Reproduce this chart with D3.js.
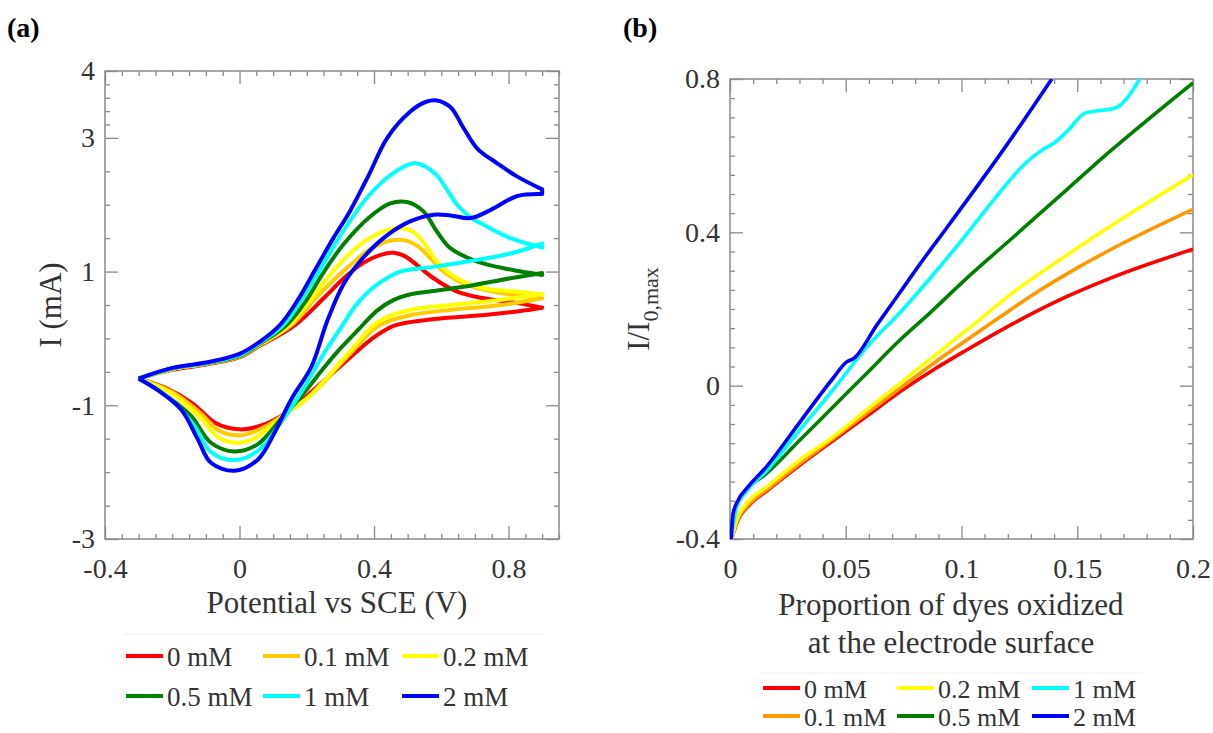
<!DOCTYPE html>
<html>
<head>
<meta charset="utf-8">
<script src="https://cdn.jsdelivr.net/npm/d3@7"></script>
<style>
  body { margin: 0; background: #fff; }
  svg text { font-family: "Liberation Serif", "Times New Roman", serif; fill: #333; }
</style>
</head>
<body>
<svg id="chart"></svg>
<script>
// --- DATA ---
const concLabels = ['0 mM', '0.1 mM', '0.2 mM', '0.5 mM', '1 mM', '2 mM'];
const colorsA = ['#ff0000', '#ffcc00', '#ffff00', '#008000', '#00ffff', '#0000ff'];
const colorsB = ['#ff0000', '#ff9900', '#ffff00', '#008000', '#00ffff', '#0000ff'];

// (a) cyclic voltammograms: [potential V, current mA], forward scan then return scan
const cv0 = [[-0.3,-0.6],[-0.2,-0.47],[-0.1,-0.39],[0,-0.28],[0.06,-0.11],[0.165,0.2],[0.25,0.6],[0.31,0.9],[0.368,1.13],[0.42,1.25],[0.458,1.28],[0.495,1.22],[0.527,1.1],[0.577,0.9],[0.647,0.7],[0.726,0.6],[0.826,0.53],[0.9,0.46],
  [0.85,0.42],[0.75,0.36],[0.56,0.28],[0.46,0.19],[0.39,-0.02],[0.31,-0.37],[0.22,-0.77],[0.14,-1.11],[0.06,-1.31],[0,-1.36],[-0.07,-1.27],[-0.14,-0.97],[-0.22,-0.74],[-0.3,-0.6]];
const cv01 = [[-0.3,-0.6],[-0.2,-0.46],[-0.1,-0.38],[0,-0.27],[0.06,-0.1],[0.155,0.2],[0.222,0.58],[0.279,0.87],[0.33,1.1],[0.378,1.3],[0.438,1.45],[0.488,1.47],[0.53,1.38],[0.567,1.2],[0.607,1.0],[0.677,0.8],[0.776,0.68],[0.9,0.6],
  [0.78,0.5],[0.63,0.43],[0.51,0.35],[0.43,0.23],[0.39,0.1],[0.353,-0.1],[0.3,-0.38],[0.254,-0.64],[0.2,-0.9],[0.139,-1.12],[0.08,-1.31],[0.03,-1.42],[-0.005,-1.45],[-0.06,-1.38],[-0.12,-1.1],[-0.2,-0.8],[-0.3,-0.6]];
const cv02 = [[-0.3,-0.6],[-0.2,-0.46],[-0.1,-0.38],[0,-0.27],[0.06,-0.09],[0.148,0.2],[0.212,0.58],[0.265,0.93],[0.308,1.17],[0.358,1.4],[0.428,1.6],[0.478,1.65],[0.515,1.6],[0.55,1.42],[0.587,1.15],[0.647,0.9],[0.726,0.75],[0.826,0.7],[0.9,0.66],
  [0.78,0.58],[0.63,0.5],[0.51,0.43],[0.43,0.3],[0.39,0.16],[0.353,-0.05],[0.3,-0.35],[0.254,-0.62],[0.2,-0.9],[0.139,-1.12],[0.08,-1.37],[0.03,-1.53],[-0.01,-1.56],[-0.06,-1.49],[-0.12,-1.17],[-0.2,-0.83],[-0.3,-0.6]];
const cv05 = [[-0.3,-0.6],[-0.2,-0.45],[-0.1,-0.37],[0,-0.26],[0.06,-0.08],[0.14,0.2],[0.2,0.58],[0.245,0.95],[0.308,1.4],[0.388,1.82],[0.448,2.02],[0.498,2.04],[0.547,1.9],[0.587,1.6],[0.627,1.35],[0.707,1.15],[0.806,1.03],[0.9,0.95],
  [0.9,0.98],[0.806,0.9],[0.677,0.78],[0.577,0.71],[0.5,0.65],[0.46,0.58],[0.41,0.42],[0.353,0.13],[0.3,-0.15],[0.254,-0.42],[0.184,-0.86],[0.124,-1.2],[0.055,-1.58],[-0.015,-1.69],[-0.085,-1.56],[-0.144,-1.16],[-0.214,-0.87],[-0.3,-0.6]];
const cv1 = [[-0.3,-0.6],[-0.2,-0.45],[-0.1,-0.37],[0,-0.25],[0.06,-0.07],[0.13,0.2],[0.185,0.58],[0.236,1.0],[0.308,1.6],[0.378,2.1],[0.448,2.44],[0.517,2.62],[0.55,2.58],[0.587,2.44],[0.62,2.2],[0.647,2.0],[0.69,1.8],[0.726,1.7],[0.806,1.5],[0.9,1.36],
  [0.9,1.42],[0.806,1.27],[0.677,1.15],[0.577,1.07],[0.478,1.0],[0.408,0.8],[0.35,0.52],[0.3,0.15],[0.254,-0.2],[0.184,-0.8],[0.124,-1.25],[0.055,-1.68],[-0.015,-1.82],[-0.085,-1.7],[-0.134,-1.31],[-0.194,-0.96],[-0.25,-0.74],[-0.3,-0.6]];
const cv2 = [[-0.3,-0.6],[-0.2,-0.44],[-0.1,-0.36],[0,-0.23],[0.06,-0.05],[0.12,0.2],[0.174,0.58],[0.222,1.0],[0.279,1.5],[0.328,1.9],[0.385,2.45],[0.438,2.99],[0.507,3.39],[0.555,3.54],[0.587,3.56],[0.627,3.46],[0.667,3.14],[0.707,2.84],[0.766,2.62],[0.826,2.42],[0.9,2.23],
  [0.9,2.16],[0.826,2.13],[0.746,1.92],[0.687,1.8],[0.627,1.84],[0.577,1.85],[0.507,1.75],[0.428,1.5],[0.358,1.15],[0.308,0.8],[0.26,0.25],[0.214,-0.42],[0.154,-0.91],[0.104,-1.41],[0.055,-1.81],[-0.015,-1.98],[-0.085,-1.86],[-0.124,-1.51],[-0.174,-1.06],[-0.244,-0.77],[-0.3,-0.6]];

// (b) normalised current vs proportion of oxidized dyes: [proportion, I/I0,max]
const prop0 = [[0.0007,-0.4],[0.003,-0.357],[0.0086,-0.31],[0.0158,-0.275],[0.0302,-0.207],[0.0446,-0.143],[0.059,-0.08],[0.0734,-0.016],[0.0878,0.041],[0.1022,0.093],[0.1166,0.143],[0.1454,0.232],[0.1641,0.28],[0.2,0.356]];
const prop01 = [[0.0007,-0.4],[0.003,-0.355],[0.0086,-0.307],[0.0158,-0.272],[0.0302,-0.203],[0.0446,-0.138],[0.059,-0.072],[0.0734,-0.007],[0.0878,0.058],[0.1022,0.119],[0.1166,0.179],[0.131,0.238],[0.1454,0.291],[0.1641,0.354],[0.2,0.46]];
const prop02 = [[0.0007,-0.4],[0.0029,-0.351],[0.0072,-0.307],[0.0158,-0.264],[0.0302,-0.194],[0.0446,-0.133],[0.059,-0.063],[0.0734,0.006],[0.0878,0.076],[0.1022,0.145],[0.1238,0.25],[0.1454,0.34],[0.1641,0.415],[0.2,0.55]];
const prop05 = [[0.0005,-0.4],[0.0015,-0.33],[0.0058,-0.281],[0.0158,-0.229],[0.0302,-0.142],[0.0446,-0.055],[0.059,0.032],[0.0734,0.119],[0.0864,0.19],[0.1022,0.28],[0.1238,0.395],[0.1454,0.511],[0.1641,0.611],[0.2,0.79]];
const prop1 = [[0.0005,-0.4],[0.0029,-0.316],[0.0072,-0.275],[0.0158,-0.222],[0.0302,-0.115],[0.0446,-0.01],[0.059,0.1],[0.0749,0.2],[0.0878,0.29],[0.1022,0.395],[0.1166,0.505],[0.1267,0.575],[0.1353,0.617],[0.1397,0.632],[0.1454,0.662],[0.1534,0.711],[0.1667,0.725],[0.177,0.8]];
const prop2 = [[0.0005,-0.4],[0.0014,-0.333],[0.0036,-0.298],[0.0072,-0.268],[0.0158,-0.211],[0.0302,-0.095],[0.0446,0.02],[0.0504,0.062],[0.0533,0.07],[0.0634,0.158],[0.0734,0.243],[0.0806,0.305],[0.095,0.423],[0.1094,0.542],[0.1238,0.665],[0.139,0.8]];

const cvSeries = [cv0, cv01, cv02, cv05, cv1, cv2];
const propSeries = [prop0, prop01, prop02, prop05, prop1, prop2];

// tick labels
const cvXTicks = [-0.4, 0, 0.4, 0.8];
const cvYTicks = [-3, -1, 1, 3, 4];
const cvYMinor = [3.8, 3.6, 3.4, 3.2, 2.5, 2, 1.5, 0.5, 0, -0.5, -1.5, -2, -2.5];
const propXTicks = [0, 0.05, 0.1, 0.15, 0.2];
const propYTicks = [-0.4, 0, 0.4, 0.8];

// legend layouts (index into concLabels)
const legendOrderA = [[0, 1, 2], [3, 4, 5]];
const legendOrderB = [[0, 2, 4], [1, 3, 5]];

// --- SETUP ---
const width = 1213, height = 733;
const svg = d3.select('#chart').attr('width', width).attr('height', height);

const AXIS_COLOR = '#8a8a8a';
const near = (a, list) => list.some(v => Math.abs(v - a) < 1e-6);

function drawAxes(g, x, y, xMajor, xMinor, yMajor, yMinor, fmt) {
    const [x0, x1] = x.range();
    const [y0, y1] = y.range(); // y0 bottom, y1 top

    const axes = [
        { gen: d3.axisBottom, scale: x, at: `translate(0,${y0})`, major: xMajor, minor: xMinor, labels: true, pad: 19 },
        { gen: d3.axisTop, scale: x, at: `translate(0,${y1})`, major: xMajor, minor: xMinor, labels: false },
        { gen: d3.axisLeft, scale: y, at: `translate(${x0},0)`, major: yMajor, minor: yMinor, labels: true, pad: 10 },
        { gen: d3.axisRight, scale: y, at: `translate(${x1},0)`, major: yMajor, minor: yMinor, labels: false }
    ];

    axes.forEach(a => {
        const minorG = g.append('g').attr('transform', a.at)
            .call(a.gen(a.scale).tickValues(a.minor).tickSize(-5).tickFormat(''));
        const majorG = g.append('g').attr('transform', a.at)
            .call(a.gen(a.scale).tickValues(a.major).tickSize(-13)
                .tickPadding(a.pad || 0)
                .tickFormat(a.labels ? fmt : ''));
        [minorG, majorG].forEach(s => {
            s.select('.domain').remove();
            s.selectAll('line').attr('stroke', AXIS_COLOR).attr('stroke-width', 1.3);
            s.selectAll('text').style('font-size', '28px').style('fill', '#333');
        });
    });

    g.append('rect')
        .attr('x', x0).attr('y', y1)
        .attr('width', x1 - x0).attr('height', y0 - y1)
        .attr('fill', 'none').attr('stroke', AXIS_COLOR).attr('stroke-width', 1.5);
}

function drawLegend(g, order, colors, colStarts, rowBase, rowGap, lineLen, fontSize) {
    order.forEach((row, r) => {
        row.forEach((idx, c) => {
            const lx = colStarts[c];
            const by = rowBase + r * rowGap;
            g.append('line')
                .attr('x1', lx).attr('x2', lx + lineLen)
                .attr('y1', by - 10).attr('y2', by - 10)
                .attr('stroke', colors[idx]).attr('stroke-width', 4);
            g.append('text')
                .attr('x', lx + lineLen + 4).attr('y', by)
                .style('font-size', fontSize + 'px')
                .text(concLabels[idx]);
        });
    });
}

// --- PANEL (a) ---
const xA = d3.scaleLinear().domain([-0.4, 0.95]).range([105, 559]);
const yA = d3.scaleLinear().domain([-3, 4]).range([539, 71]);
const gA = svg.append('g');

const xAMinor = d3.range(-0.35, 0.951, 0.05).filter(v => !near(v, cvXTicks));
drawAxes(gA, xA, yA, cvXTicks, xAMinor, cvYTicks, cvYMinor, d => String(d));

// each voltammogram: forward branch + return branch drawn as smooth pieces,
// joined with a sharp turn at the switching potential
const smoothA = d3.line().x(d => xA(d[0])).y(d => yA(d[1])).curve(d3.curveCatmullRom.alpha(0.5));
function loopPath(pts) {
    const k = d3.maxIndex(pts, d => d[0]);
    const fwd = pts.slice(0, k + 1);
    let rev = pts.slice(k + 1);
    if (rev[0][0] !== pts[k][0]) rev = [pts[k]].concat(rev);
    return smoothA(fwd) + smoothA(rev).replace(/^M/, 'L');
}

gA.append('g').selectAll('path')
    .data(cvSeries)
    .enter().append('path')
    .attr('d', loopPath)
    .attr('fill', 'none')
    .attr('stroke', (d, i) => colorsA[i])
    .attr('stroke-width', 4)
    .attr('stroke-linejoin', 'round');

gA.append('text').attr('x', 337).attr('y', 613)
    .attr('text-anchor', 'middle').style('font-size', '31px')
    .text('Potential vs SCE (V)');
gA.append('text').attr('transform', 'translate(61,305) rotate(-90)')
    .attr('text-anchor', 'middle').style('font-size', '31px')
    .text('I (mA)');
gA.append('text').attr('x', 7).attr('y', 37)
    .style('font-size', '28px').style('font-weight', 'bold').style('fill', '#000')
    .text('(a)');

gA.append('line').attr('x1', 123).attr('x2', 543).attr('y1', 634).attr('y2', 634)
    .attr('stroke', '#eeeeee').attr('stroke-width', 1);
drawLegend(gA, legendOrderA, colorsA, [126, 263, 402], 666, 40, 37, 27);

// --- PANEL (b) ---
const xB = d3.scaleLinear().domain([0, 0.2]).range([730, 1193]);
const yB = d3.scaleLinear().domain([-0.4, 0.8]).range([539, 79]);
const gB = svg.append('g');

const xBMinor = d3.range(0.01, 0.2, 0.01).filter(v => !near(v, propXTicks));
const yBMinor = d3.range(-0.35, 0.8, 0.05).filter(v => !near(v, propYTicks));
drawAxes(gB, xB, yB, propXTicks, xBMinor, propYTicks, yBMinor, d => String(d));

svg.append('defs').append('clipPath').attr('id', 'clipB')
    .append('rect').attr('x', 730).attr('y', 79).attr('width', 463).attr('height', 460);

const lineB = d3.line().x(d => xB(d[0])).y(d => yB(d[1])).curve(d3.curveMonotoneX);
gB.append('g').attr('clip-path', 'url(#clipB)').selectAll('path')
    .data(propSeries)
    .enter().append('path')
    .attr('d', lineB)
    .attr('fill', 'none')
    .attr('stroke', (d, i) => colorsB[i])
    .attr('stroke-width', 3.6)
    .attr('stroke-linejoin', 'round');

gB.append('text').attr('x', 951).attr('y', 615)
    .attr('text-anchor', 'middle').style('font-size', '31px')
    .text('Proportion of dyes oxidized');
gB.append('text').attr('x', 951).attr('y', 653)
    .attr('text-anchor', 'middle').style('font-size', '31px')
    .text('at the electrode surface');
const yTitleB = gB.append('text').attr('transform', 'translate(649,309) rotate(-90)')
    .attr('text-anchor', 'middle').style('font-size', '31px');
yTitleB.append('tspan').text('I/I');
yTitleB.append('tspan').attr('dy', 9).style('font-size', '22px').text('0,max');
gB.append('text').attr('x', 623).attr('y', 37)
    .style('font-size', '28px').style('font-weight', 'bold').style('fill', '#000')
    .text('(b)');

gB.append('line').attr('x1', 760).attr('x2', 1143).attr('y1', 673).attr('y2', 673)
    .attr('stroke', '#eeeeee').attr('stroke-width', 1);
drawLegend(gB, legendOrderB, colorsB, [763, 897, 1032], 698, 28, 37, 26);
</script>
</body>
</html>
